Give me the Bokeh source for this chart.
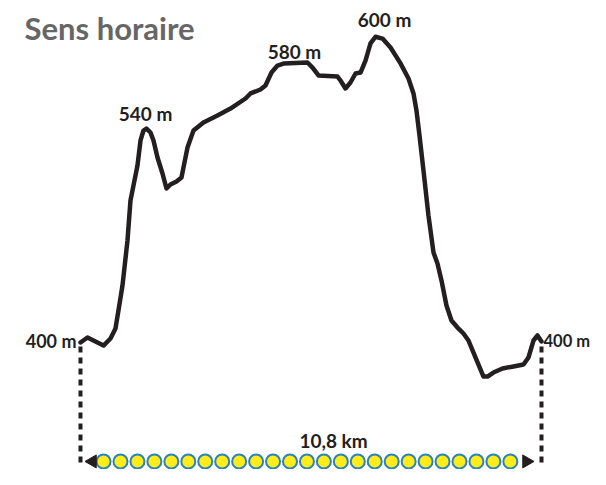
import numpy as np
from bokeh.plotting import figure
from bokeh.models import ColumnDataSource
from bokeh.core.properties import value
from bokeh.embed import file_html
from bokeh.resources import INLINE

# ---- data ----
title_text = "Sens horaire"
total_km = 10.8
distance_km = [0.00, 0.164, 0.351, 0.539, 0.703, 0.820, 0.890, 0.984, 1.101, 1.171,
               1.242, 1.335, 1.406, 1.476, 1.546, 1.640, 1.710, 1.804, 1.921, 2.015,
               2.108, 2.249, 2.366, 2.413, 2.507, 2.647, 2.881, 3.209, 3.514, 3.866,
               3.983, 4.217, 4.334, 4.475, 4.616, 4.756, 5.318, 5.436, 5.576, 6.021,
               6.091, 6.208, 6.325, 6.443, 6.560, 6.677, 6.794, 6.911, 7.075, 7.263,
               7.497, 7.684, 7.801, 7.871, 7.942, 8.035, 8.152, 8.270, 8.363, 8.457,
               8.574, 8.691, 8.832, 8.972, 9.089, 9.253, 9.441, 9.534, 9.675, 9.886,
               10.143, 10.378, 10.495, 10.612, 10.706, 10.800]
elevation_m = [400.0, 403.3, 400.7, 398.0, 402.6, 409.2, 421.0, 437.4, 466.9, 493.1,
               503.0, 516.1, 532.5, 539.0, 540.3, 537.7, 532.5, 521.3, 510.8, 501.0,
               503.6, 505.6, 508.2, 514.8, 527.9, 539.0, 544.3, 548.9, 553.4, 560.0,
               563.3, 565.9, 568.5, 577.0, 581.6, 582.9, 583.6, 580.3, 575.1, 574.4,
               571.8, 566.6, 570.5, 576.4, 577.0, 584.9, 596.1, 600.5, 599.3, 593.4,
               583.0, 573.1, 563.3, 552.1, 535.7, 512.8, 483.3, 459.0, 451.8, 440.7,
               424.3, 414.4, 409.8, 405.9, 401.3, 390.2, 377.7, 377.7, 380.3, 383.0,
               384.3, 385.6, 390.2, 401.3, 404.6, 400.7]
peak_labels = ["540 m", "580 m", "600 m"]
peak_km = [1.523, 5.013, 7.122]
peak_label_m = [550.2, 590.8, 611.8]
end_label = "400 m"
distance_label = "10,8 km"
n_dots = 25

FONT = value("Lato")
INK = "#231f20"

p = figure(width=590, height=469, output_backend="svg", toolbar_location=None,
           x_range=(-1.874, 11.948), y_range=(316.72, 624.26),
           x_axis_location=None, y_axis_location=None, min_border=0,
           background_fill_color="white", border_fill_color="white")
p.outline_line_color = None
p.xgrid.visible = False
p.ygrid.visible = False

# profile
p.line(distance_km, elevation_m, line_color=INK, line_width=4.5,
       line_join="round", line_cap="round")

# dashed verticals at start and end
for xk in (0.0, total_km):
    p.line([xk, xk], [397.4, 321.3], line_color=INK, line_width=4, line_dash="6 5")

# dots along distance bar
dot_x = np.linspace(0.54, 10.07, n_dots)
p.scatter(dot_x, [322.0] * n_dots, size=14, fill_color="#ffec1a",
          line_color="#2a83ba", line_width=2)

# arrow heads
p.scatter([0.281], [322.0], marker="triangle", size=13, angle=np.pi / 2,
          fill_color=INK, line_color=INK)
p.scatter([10.449], [322.0], marker="triangle", size=13, angle=-np.pi / 2,
          fill_color=INK, line_color=INK)

# peak labels
src = ColumnDataSource(dict(x=peak_km, y=peak_label_m, t=peak_labels))
p.text("x", "y", text="t", source=src, text_font=FONT, text_font_style="bold",
       text_font_size="19px", text_color=INK, text_align="center",
       text_baseline="middle")

# end labels
p.text([-0.094], [401.3], text=[end_label], text_font=FONT, text_font_style="bold",
       text_font_size="18px", text_color=INK, text_align="right", text_baseline="middle")
p.text([10.847], [401.3], text=[end_label], text_font=FONT, text_font_style="bold",
       text_font_size="16.5px", text_color=INK, text_align="left", text_baseline="middle")

# distance label
p.text([5.927], [335.7], text=[distance_label], text_font=FONT, text_font_style="bold",
       text_font_size="19px", text_color=INK, text_align="center", text_baseline="middle")

# title
p.text([-1.312], [605.9], text=[title_text], text_font=FONT, text_font_style="bold",
       text_font_size="31px", text_color="#666666", text_align="left",
       text_baseline="middle")

open("out.html", "w").write(file_html(p, INLINE))
